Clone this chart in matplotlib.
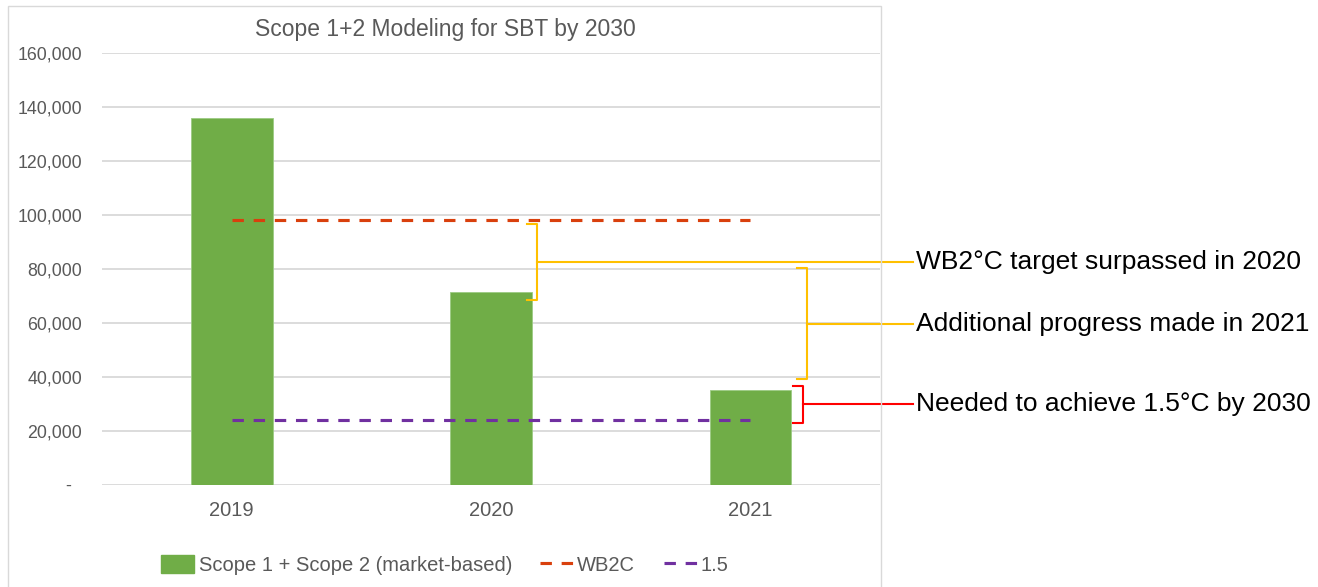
import matplotlib.pyplot as plt
from matplotlib.lines import Line2D
from matplotlib.patches import Patch, Rectangle
from matplotlib.ticker import FuncFormatter

plt.rcParams['font.family'] = ['Liberation Sans', 'DejaVu Sans']

# chart data
years = ['2019', '2020', '2021']
scope12 = [136000, 71400, 35100]
wb2c = [98000, 98000, 98000]
target_15 = [24000, 24000, 24000]

# annotation brackets: spine x (category units), top, bottom, label, colour
bracket_x = [1.178, 2.219, 2.203]
bracket_top = [96800, 80500, 36800]
bracket_bottom = [68700, 39100, 23100]
bracket_text = ['WB2°C target surpassed in 2020',
                'Additional progress made in 2021',
                'Needed to achieve 1.5°C by 2030']
bracket_color = ['#FFC000', '#FFC000', '#FF0000']

GREEN = '#70AD47'
RED = '#D9400D'
PURPLE = '#7030A0'
GREY = '#595959'

fig = plt.figure(figsize=(13.18, 5.87), dpi=100)
ax = fig.add_axes([0.0774, 0.1738, 0.5903, 0.7359])

x = list(range(len(years)))
ax.bar(x, scope12, width=0.315, color=GREEN, edgecolor='#9CCB84', linewidth=0.6, zorder=2)
dash = (3.65, 3.12)
ax.plot(x, wb2c, color=RED, lw=2.25, dashes=dash, zorder=3)
ax.plot(x, target_15, color=PURPLE, lw=2.25, dashes=dash, zorder=3)

ax.set_xlim(-0.5, 2.5)
ax.set_ylim(0, 160000)
ax.set_yticks(range(0, 160001, 20000))
ax.yaxis.set_major_formatter(FuncFormatter(lambda v, p: '-  ' if v == 0 else f'{int(v):,}'))
ax.set_xticks(x)
ax.set_xticklabels(years)
ax.tick_params(axis='y', length=0, pad=14.4, labelsize=12.8, labelcolor=GREY)
ax.tick_params(axis='x', length=0, pad=11.5, labelsize=14.5, labelcolor=GREY)
ax.grid(axis='y', color='#D9D9D9', lw=1.3)
ax.set_axisbelow(True)
for s in ax.spines.values():
    s.set_visible(False)

# brackets with labels to the right of the plot
tick = 0.0386
text_x = 2.639
for bx, top, bot, label, col in zip(bracket_x, bracket_top, bracket_bottom, bracket_text, bracket_color):
    mid = (top + bot) / 2
    ax.plot([bx - tick, bx, bx, bx - tick], [top, top, bot, bot], color=col, lw=1.5,
            clip_on=False, solid_joinstyle='round', zorder=4)
    ax.plot([bx, text_x - 0.01], [mid, mid], color=col, lw=1.5, clip_on=False, zorder=4)
    ax.text(text_x, mid, label, fontsize=19, color='black', va='center', ha='left',
            clip_on=False)

# chart area frame, title and legend
fig.patches.append(Rectangle((0.006, -0.01), 0.6624, 1.0, transform=fig.transFigure,
                             fill=False, edgecolor='#D9D9D9', lw=1.0))
fig.text(0.3376, 0.949, 'Scope 1+2 Modeling for SBT by 2030', ha='center', va='center',
         fontsize=16.5, color=GREY)

handles = [Patch(color=GREEN),
           Line2D([], [], color=RED, lw=2.25, dashes=dash),
           Line2D([], [], color=PURPLE, lw=2.25, dashes=dash)]
labels = ['Scope 1 + Scope 2 (market-based)', 'WB2C', '1.5']
fig.legend(handles, labels, loc='center', bbox_to_anchor=(0.3376, 0.0375), ncol=3,
           frameon=False, fontsize=14.5, labelcolor=GREY, handlelength=1.65,
           handleheight=1.0, handletextpad=0.2, columnspacing=1.4)

fig.savefig('out.png', dpi=100)
